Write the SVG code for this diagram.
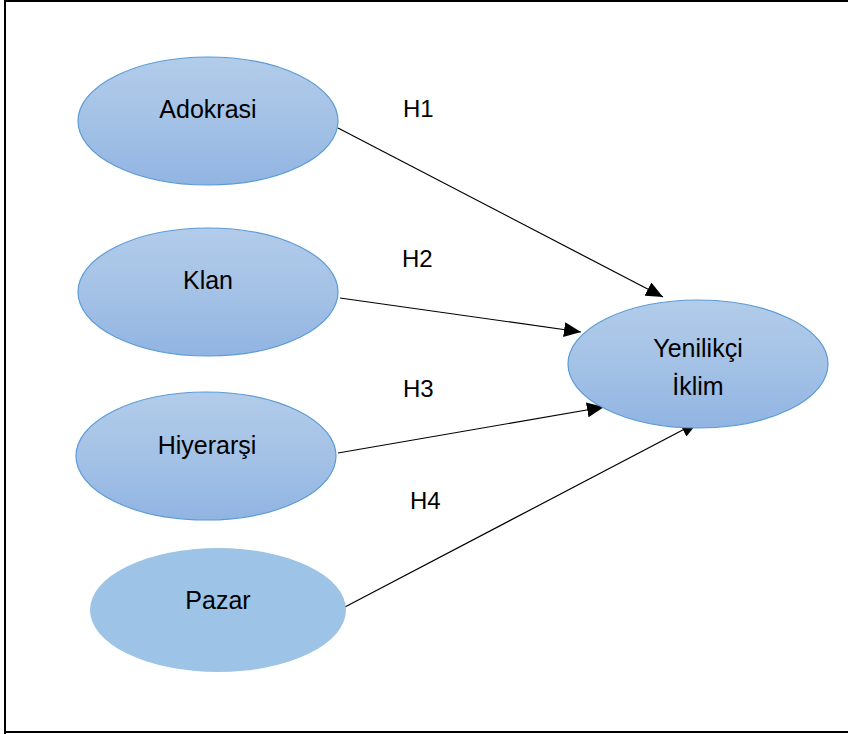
<svg xmlns="http://www.w3.org/2000/svg" width="848" height="734" viewBox="0 0 848 734">
  <defs>
    <linearGradient id="g" x1="0" y1="0" x2="0" y2="1">
      <stop offset="0" stop-color="#B2CCEA"/>
      <stop offset="0.5" stop-color="#A4C2E6"/>
      <stop offset="1" stop-color="#91B4E2"/>
    </linearGradient>
    <marker id="ah" markerUnits="userSpaceOnUse" markerWidth="17" markerHeight="15" refX="17" refY="7.5" orient="auto">
      <path d="M0,0 L17,7.5 L0,15 z" fill="#000"/>
    </marker>
    <style>
      .n { fill: url(#g); stroke: #5B9BD5; stroke-width: 1.2; }
      .flat { fill: #9DC3E6; stroke: none; }
      .t { font-family: "Liberation Sans", Arial, sans-serif; font-size: 25px; fill: #000; text-anchor: middle; }
      .lb { font-family: "Liberation Sans", Arial, sans-serif; font-size: 24px; fill: #000; }
      .c { stroke: #000; stroke-width: 1.2; fill: none; marker-end: url(#ah); }
    </style>
  </defs>
  <rect width="848" height="734" fill="#fff"/>
  <path d="M5,734 V1 H848 M5,732 H848" fill="none" stroke="#000" stroke-width="2"/>

  <g id="connectors">
    <line class="c" x1="338" y1="128" x2="663" y2="297"/>
    <line class="c" x1="340" y1="298" x2="581" y2="332"/>
    <line class="c" x1="338" y1="453" x2="604" y2="407"/>
    <line class="c" x1="343" y1="608" x2="698" y2="422"/>
  </g>

  <g id="labels">
    <text class="lb" x="403" y="117">H1</text>
    <text class="lb" x="402" y="267">H2</text>
    <text class="lb" x="403" y="397">H3</text>
    <text class="lb" x="410" y="509">H4</text>
  </g>

  <g id="adokrasi">
    <ellipse class="n" cx="208" cy="121" rx="130" ry="64"/>
    <text class="t" x="208" y="118">Adokrasi</text>
  </g>
  <g id="klan">
    <ellipse class="n" cx="208" cy="292" rx="130" ry="64"/>
    <text class="t" x="208" y="289">Klan</text>
  </g>
  <g id="hiyerarsi">
    <ellipse class="n" cx="206" cy="456" rx="130" ry="64"/>
    <text class="t" x="207" y="454">Hiyerarşi</text>
  </g>
  <g id="pazar">
    <ellipse class="flat" cx="218" cy="610" rx="128" ry="62"/>
    <text class="t" x="218" y="609">Pazar</text>
  </g>
  <g id="yenilikci">
    <ellipse class="n" cx="698" cy="364" rx="130" ry="64"/>
    <text class="t" x="698" y="357">Yenilikçi</text>
    <text class="t" x="698" y="395">İklim</text>
  </g>
</svg>
